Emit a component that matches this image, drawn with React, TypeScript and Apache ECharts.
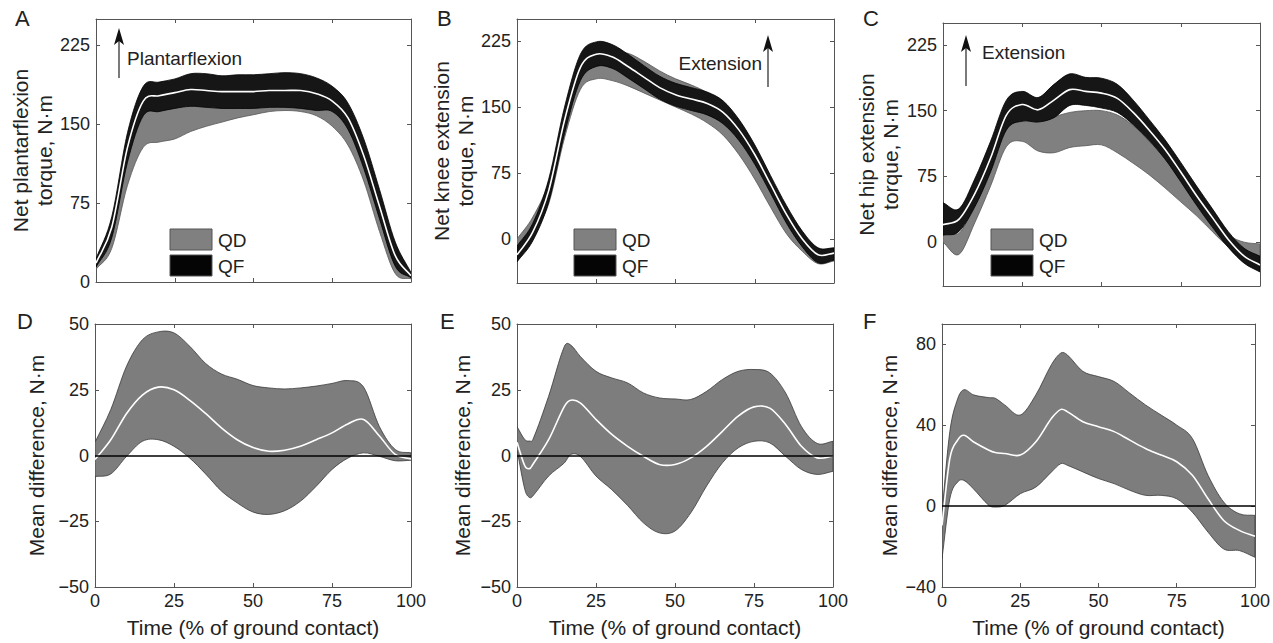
import React, { useEffect, useRef } from 'react';
import * as echarts from 'echarts';

const FONT = '"Liberation Sans", Arial, Helvetica, sans-serif';
const TXT = '#222';
const AX = '#555';

// ---------- data ----------
const xTop = [0, 5, 10, 15, 20, 25, 30, 35, 40, 45, 50, 55, 60, 65, 70, 75, 80, 85, 90, 95, 100];

// Panel A: ankle
const A_QD_lo = [12, 32, 92, 128, 133, 136, 143, 148, 152, 156, 159, 162, 163, 162, 158, 148, 130, 96, 48, 8, 3];
const A_QD_hi = [18, 50, 125, 172, 178, 182, 186, 186, 186, 187, 188, 190, 191, 190, 186, 176, 160, 124, 76, 28, 6];
const A_QF_lo = [14, 42, 114, 158, 162, 165, 167, 166, 165, 165, 165, 166, 166, 165, 163, 162, 145, 108, 60, 15, 4];
const A_QF_hi = [22, 62, 142, 186, 190, 193, 198, 198, 196, 197, 197, 198, 199, 198, 194, 186, 170, 136, 88, 38, 9];
const A_QF_mean = [18, 52, 128, 172, 177, 180, 183, 182, 181, 181, 181, 182, 182, 182, 179, 172, 156, 120, 72, 25, 6];

// Panel B: knee
const B_QD_lo = [-22, 5, 40, 115, 170, 182, 180, 174, 166, 158, 150, 142, 132, 118, 96, 68, 36, 6, -14, -28, -25];
const B_QD_hi = [0, 25, 65, 140, 198, 212, 212, 211, 202, 191, 182, 175, 166, 150, 130, 100, 66, 32, 4, -14, -12];
const B_QF_lo = [-26, -2, 42, 120, 180, 196, 194, 183, 171, 159, 151, 146, 141, 131, 112, 85, 52, 18, -9, -27, -24];
const B_QF_hi = [-8, 18, 68, 150, 210, 224, 221, 210, 197, 185, 177, 172, 167, 157, 136, 107, 72, 38, 9, -10, -10];
const B_QF_mean = [-18, 8, 55, 135, 195, 210, 207, 196, 184, 172, 164, 159, 154, 144, 124, 96, 62, 28, 0, -18, -16];

// Panel C: hip
const C_QD_lo = [0, -14, 22, 64, 109, 115, 104, 102, 108, 110, 111, 102, 90, 77, 62, 46, 30, 12, -5, -14, -18];
const C_QD_hi = [20, 10, 45, 95, 138, 140, 138, 143, 148, 150, 150, 145, 133, 115, 95, 70, 48, 25, 8, 0, -2];
const C_QF_lo = [8, 12, 40, 80, 128, 138, 137, 142, 156, 156, 153, 148, 134, 116, 95, 69, 42, 17, -6, -24, -34];
const C_QF_hi = [45, 38, 72, 115, 162, 172, 165, 180, 192, 188, 187, 180, 162, 140, 117, 91, 64, 38, 12, -7, -16];
const C_QF_mean = [20, 26, 55, 96, 145, 157, 151, 162, 174, 172, 170, 164, 148, 128, 106, 80, 53, 28, 3, -16, -26];

// Panel D: ankle difference
const xD = [0, 5, 10, 15, 20, 25, 30, 35, 40, 45, 50, 55, 60, 65, 70, 75, 80, 85, 90, 95, 100];
const D_mean = [-1.5, 6, 16, 23, 26, 25, 21, 16, 10.5, 6, 3, 1.6, 2, 3.5, 6, 8.6, 12, 13.7, 7.4, 0.4, -1.3];
const D_hi = [5, 17.5, 34, 44, 47, 46.6, 41.5, 35, 31, 29, 26.6, 25.7, 25.3, 25.7, 26.4, 27.4, 28.5, 26, 11, 2.3, 1];
const D_lo = [-8, -7, -0.3, 5.4, 6, 3.5, -1, -7, -13.5, -18, -21.5, -22.4, -21, -17.4, -11.7, -5.3, -1, 1, -0.3, -2, -1.8];

// Panel E: knee difference
const xE = [0, 2.5, 4, 5, 10, 15, 17, 20, 25, 30, 35, 40, 45, 50, 55, 60, 65, 70, 75, 80, 85, 90, 95, 100];
const E_mean = [5, -4, -5, -3.4, 6, 18.7, 21, 20, 13.7, 8, 3.5, -0.3, -3.4, -3.4, -0.9, 3.5, 9.2, 15, 18.5, 18, 11.8, 3.5, -0.9, -0.3];
const E_hi = [11, 6, 5.5, 6, 22.5, 41.5, 42, 37.7, 32, 29.5, 27.6, 23.8, 21.9, 21.5, 21.3, 24.4, 28.9, 32, 32.7, 31.4, 23.8, 11, 4.6, 5.4];
const E_lo = [2.3, -13, -16, -15.4, -7.8, -2.8, 0.4, -0.3, -7.8, -13, -19, -25.6, -29.4, -28.7, -21.8, -11.6, -2.8, 2.9, 5.4, 4.8, -0.3, -5.3, -7.2, -6];

// Panel F: hip difference
const xF = [0, 2.5, 5, 7, 10, 15, 17, 20, 25, 30, 35, 38, 40, 45, 50, 55, 60, 65, 70, 75, 80, 85, 90, 95, 100];
const F_mean = [-9.6, 23.5, 32.6, 35, 31.8, 27.6, 26.5, 26, 25.2, 31.8, 43.4, 47.8, 46.7, 41.7, 39.2, 36.8, 32.6, 28.5, 25.2, 21.9, 15.2, 3.6, -7.1, -12, -14.9];
const F_hi = [-3, 36.8, 53, 57.5, 55, 53.6, 53.3, 50, 45, 55, 70, 75.7, 74.8, 66.6, 64, 61.6, 55.8, 50, 45, 40, 33.4, 15.2, 2, -3.8, -4.6];
const F_lo = [-26, 3.6, 11.9, 12.7, 8.6, 0.3, -0.5, 0.3, 6.1, 9.4, 16.9, 21, 20.2, 16.9, 13.6, 11.1, 7.8, 5.3, 5.3, 3.6, -3, -12.9, -21.2, -22, -25.3];

// tick labels
const xTicks = [0, 25, 50, 75, 100];
const torqueTicks = [0, 75, 150, 225];
const diffTicks = [-50, -25, 0, 25, 50];
const hipDiffTicks = [-40, 0, 40, 80];

const legendNames = ['QD', 'QF'];

// ---------- layout ----------
const panels = [
  { letter: 'A', left: 96, top: 19, width: 315, height: 263, min: 0, max: 250, ticks: torqueTicks, name: 'Net plantarflexion\ntorque, N·m', nameGap: 37, bottomRow: false },
  { letter: 'B', left: 517, top: 19, width: 317, height: 264, min: -50, max: 250, ticks: torqueTicks, name: 'Net knee extension\ntorque, N·m', nameGap: 35, bottomRow: false },
  { letter: 'C', left: 943, top: 23, width: 317, height: 263, min: -50, max: 250, ticks: torqueTicks, name: 'Net hip extension\ntorque, N·m', nameGap: 41, bottomRow: false },
  { letter: 'D', left: 95, top: 324, width: 316, height: 263, min: -50, max: 50, ticks: diffTicks, name: 'Mean difference, N·m', nameGap: 47, bottomRow: true },
  { letter: 'E', left: 517, top: 324, width: 316, height: 263, min: -50, max: 50, ticks: diffTicks, name: 'Mean difference, N·m', nameGap: 43, bottomRow: true },
  { letter: 'F', left: 942, top: 324, width: 316, height: 263, min: -40, max: 90, ticks: hipDiffTicks, name: 'Mean difference, N·m', nameGap: 40, bottomRow: true },
];

const fmt = (v: number) => (v < 0 ? '\u2212' + Math.abs(v) : String(v));

// smooth cubic Hermite path through pixel points (x-monotone control points)
function spline(pts: number[][], move: boolean) {
  const n = pts.length;
  const tan = pts.map((p, i) => {
    const a = pts[Math.max(0, i - 1)];
    const b = pts[Math.min(n - 1, i + 1)];
    const dx = b[0] - a[0];
    return dx === 0 ? 0 : (b[1] - a[1]) / dx;
  });
  let d = (move ? 'M' : 'L') + pts[0][0].toFixed(2) + ' ' + pts[0][1].toFixed(2);
  for (let i = 0; i < n - 1; i++) {
    const p = pts[i];
    const q = pts[i + 1];
    const h = (q[0] - p[0]) / 3;
    d += ' C' + (p[0] + h).toFixed(2) + ' ' + (p[1] + tan[i] * h).toFixed(2) + ' ' +
      (q[0] - h).toFixed(2) + ' ' + (q[1] - tan[i + 1] * h).toFixed(2) + ' ' +
      q[0].toFixed(2) + ' ' + q[1].toFixed(2);
  }
  return d;
}

function band(gi: number, name: string, xs: number[], lo: number[], hi: number[], fill: string, edge: string) {
  return {
    type: 'custom',
    name,
    xAxisIndex: gi * 2,
    yAxisIndex: gi * 2,
    silent: true,
    clip: true,
    data: xs.map((x, i) => [x, lo[i], hi[i]]),
    encode: { x: 0, y: [1, 2] },
    renderItem: (params: any, api: any) => {
      if (params.dataIndex !== 0) return null;
      const top = xs.map((x, i) => api.coord([x, hi[i]]));
      const bot = xs.map((x, i) => api.coord([x, lo[i]])).reverse();
      const d = spline(top, true) + ' ' + spline(bot, false) + ' Z';
      return { type: 'path', shape: { pathData: d }, style: { fill, stroke: edge, lineWidth: 0.8 } };
    },
  };
}

function meanLine(gi: number, xs: number[], ys: number[], extra: any = {}) {
  return {
    type: 'custom',
    name: 'mean',
    xAxisIndex: gi * 2,
    yAxisIndex: gi * 2,
    silent: true,
    clip: true,
    z: 4,
    data: xs.map((x, i) => [x, ys[i]]),
    encode: { x: 0, y: 1 },
    renderItem: (params: any, api: any) => {
      if (params.dataIndex !== 0) return null;
      const pts = xs.map((x, i) => api.coord([x, ys[i]]));
      return { type: 'path', shape: { pathData: spline(pts, true) }, style: { fill: 'none', stroke: '#ffffff', lineWidth: 1.6 } };
    },
    ...extra,
  };
}

const zeroLine = {
  markLine: {
    silent: true,
    symbol: ['none', 'none'],
    label: { show: false },
    lineStyle: { color: '#000', width: 1.6, type: 'solid' },
    data: [{ yAxis: 0 }],
  },
};

function arrow(x: number, tip: number, bottom: number) {
  return [
    { type: 'line', shape: { x1: x, y1: tip + 10, x2: x, y2: bottom }, style: { stroke: '#333', lineWidth: 1.3 } },
    { type: 'polygon', shape: { points: [[x, tip], [x - 5, tip + 17], [x, tip + 13], [x + 5, tip + 17]] }, style: { fill: '#111' } },
  ];
}

function legendBox(x: number, y: number) {
  const els: any[] = [];
  const colors = ['#808080', '#050505'];
  legendNames.forEach((n, i) => {
    const yy = y + i * 26;
    els.push({ type: 'rect', shape: { x, y: yy, width: 42, height: 21 }, style: { fill: colors[i], stroke: '#555', lineWidth: 1 } });
    els.push({ type: 'text', x: x + 48, y: yy + 11, style: { text: n, fontSize: 19, fontFamily: FONT, fill: TXT, verticalAlign: 'middle', align: 'left' } });
  });
  return els;
}

function label(text: string, x: number, y: number, size: number, align = 'left') {
  return { type: 'text', x, y, style: { text, fontSize: size, fontFamily: FONT, fill: TXT, verticalAlign: 'middle', align } };
}

export default function App() {
  const ref = useRef<HTMLDivElement>(null);

  useEffect(() => {
    if (!ref.current) return;
    const chart = echarts.init(ref.current, null, { renderer: 'svg' });

    const grid: any[] = [];
    const xAxis: any[] = [];
    const yAxis: any[] = [];
    panels.forEach((p, gi) => {
      grid.push({ left: p.left, top: p.top, width: p.width, height: p.height, containLabel: false });
      const baseX = {
        gridIndex: gi,
        type: 'value',
        min: 0,
        max: 100,
        splitLine: { show: false },
        axisLine: { show: true, onZero: false, lineStyle: { color: AX, width: 1 } },
        axisTick: { show: true, inside: true, length: 4, customValues: xTicks, lineStyle: { color: AX } },
      };
      xAxis.push({
        ...baseX,
        position: 'bottom',
        axisLabel: { show: p.bottomRow, customValues: xTicks, fontSize: 18, color: TXT, fontFamily: FONT, margin: 5 },
        name: p.bottomRow ? 'Time (% of ground contact)' : '',
        nameLocation: 'middle',
        nameGap: 30,
        nameTextStyle: { fontSize: 21, color: TXT, fontFamily: FONT },
      });
      xAxis.push({ ...baseX, position: 'top', axisLabel: { show: false } });

      const baseY = {
        gridIndex: gi,
        type: 'value',
        min: p.min,
        max: p.max,
        splitLine: { show: false },
        axisLine: { show: true, onZero: false, lineStyle: { color: AX, width: 1 } },
        axisTick: { show: true, inside: true, length: 4, customValues: p.ticks, lineStyle: { color: AX } },
      };
      yAxis.push({
        ...baseY,
        position: 'left',
        axisLabel: { show: true, customValues: p.ticks, formatter: fmt, fontSize: 18, color: TXT, fontFamily: FONT, margin: 6 },
        name: p.name,
        nameLocation: 'middle',
        nameRotate: 90,
        nameGap: p.nameGap,
        nameTextStyle: { fontSize: 21, color: TXT, fontFamily: FONT, lineHeight: 24 },
      });
      yAxis.push({ ...baseY, position: 'right', axisLabel: { show: false } });
    });

    const series: any[] = [
      band(0, 'QD', xTop, A_QD_lo, A_QD_hi, '#808080', '#555'),
      band(0, 'QF', xTop, A_QF_lo, A_QF_hi, '#161616', '#000'),
      meanLine(0, xTop, A_QF_mean),
      band(1, 'QD', xTop, B_QD_lo, B_QD_hi, '#808080', '#555'),
      band(1, 'QF', xTop, B_QF_lo, B_QF_hi, '#161616', '#000'),
      meanLine(1, xTop, B_QF_mean),
      band(2, 'QD', xTop, C_QD_lo, C_QD_hi, '#808080', '#555'),
      band(2, 'QF', xTop, C_QF_lo, C_QF_hi, '#161616', '#000'),
      meanLine(2, xTop, C_QF_mean),
      band(3, 'Difference', xD, D_lo, D_hi, '#7d7d7d', '#3a3a3a'),
      meanLine(3, xD, D_mean, zeroLine),
      band(4, 'Difference', xE, E_lo, E_hi, '#7d7d7d', '#3a3a3a'),
      meanLine(4, xE, E_mean, zeroLine),
      band(5, 'Difference', xF, F_lo, F_hi, '#7d7d7d', '#3a3a3a'),
      meanLine(5, xF, F_mean, zeroLine),
    ];

    const letterX = [15, 437, 863, 17, 440, 863];
    const letterY = [18.5, 18.5, 18.5, 321.5, 321.5, 321.5];
    const graphic: any[] = [];
    panels.forEach((p, i) => graphic.push(label(p.letter, letterX[i], letterY[i], 22)));
    graphic.push(...arrow(119, 28, 78));
    graphic.push(label('Plantarflexion', 127, 58, 19));
    graphic.push(...arrow(768, 35, 87));
    graphic.push(label('Extension', 762, 63, 19, 'right'));
    graphic.push(...arrow(966, 35, 86));
    graphic.push(label('Extension', 982, 52, 19));
    graphic.push(...legendBox(170, 229));
    graphic.push(...legendBox(574, 229));
    graphic.push(...legendBox(991, 229));

    chart.setOption({
      animation: false,
      backgroundColor: '#fff',
      grid,
      xAxis,
      yAxis,
      series,
      graphic,
    });
    return () => chart.dispose();
  }, []);

  return <div ref={ref} style={{ position: 'fixed', left: 0, top: 0, width: 1273, height: 643 }} />;
}
